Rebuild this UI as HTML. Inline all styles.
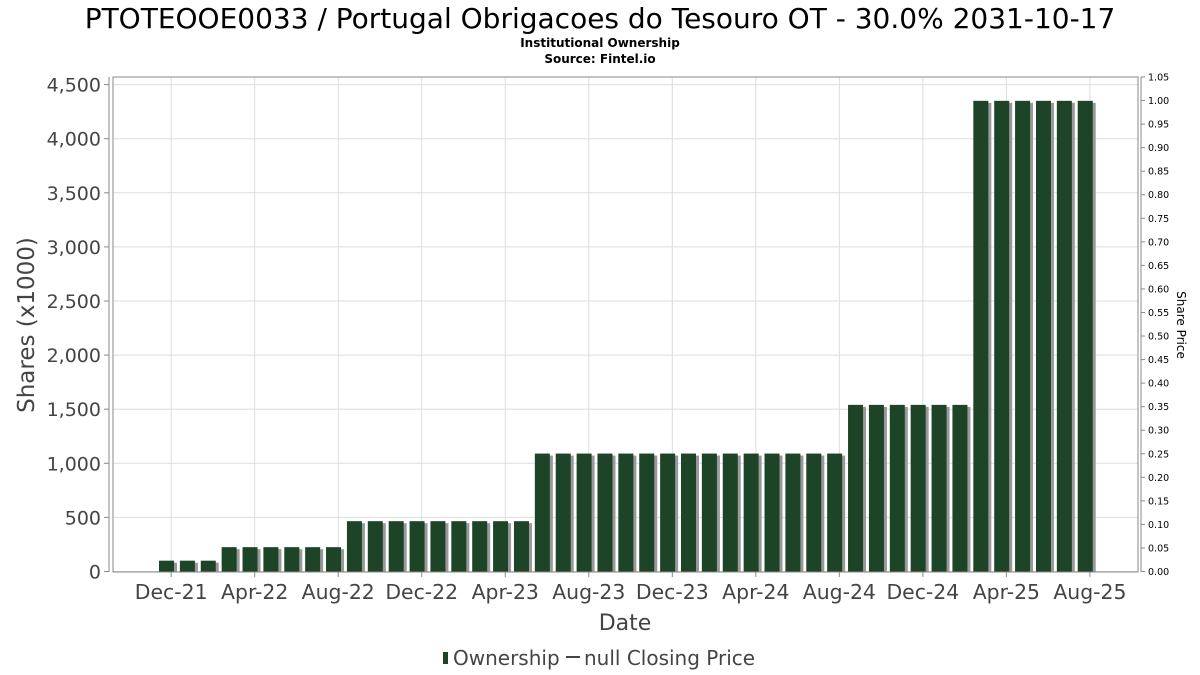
<!DOCTYPE html>
<html><head><meta charset="utf-8"><style>
body{margin:0;background:#fff;}
svg{display:block;font-family:"DejaVu Sans","Liberation Sans",sans-serif;}
</style></head><body>
<svg id="chart" width="1200" height="675" viewBox="0 0 1200 675">
<text x="600" y="28" text-anchor="middle" font-size="28" fill="#000">PTOTEOOE0033 / Portugal Obrigacoes do Tesouro OT - 30.0% 2031-10-17</text>
<text x="600" y="47" text-anchor="middle" font-size="12" font-weight="bold" fill="#000">Institutional Ownership</text>
<text x="600" y="63" text-anchor="middle" font-size="12" font-weight="bold" fill="#000">Source: Fintel.io</text>
<g id="grid"></g>
<g id="bars"></g>
<rect x="113" y="77" width="1025" height="495" fill="none" stroke="#888"/>
<g id="yaxis"></g>
<g id="raxis"></g>
<g id="xaxis"></g>
<text x="34" y="325" text-anchor="middle" font-size="23" fill="#444" transform="rotate(-90 34 325)">Shares (x1000)</text>
<text x="1177" y="325" text-anchor="middle" font-size="12" fill="#000" transform="rotate(90 1177 325)">Share Price</text>
<text x="625" y="630" text-anchor="middle" font-size="22" fill="#444">Date</text>
<g>
<rect x="443" y="652" width="5" height="12" fill="#1d4427"/>
<text x="453" y="665" font-size="20" fill="#444">Ownership</text>
<line x1="566" y1="657" x2="580" y2="657" stroke="#444" stroke-width="2"/>
<text x="584" y="665" font-size="20" fill="#444">null Closing Price</text>
</g>
</svg>
<script>
const values=[100,100,100,225,225,225,225,225,225,465,465,465,465,465,465,465,465,465,1090,1090,1090,1090,1090,1090,1090,1090,1090,1090,1090,1090,1090,1090,1090,1540,1540,1540,1540,1540,1540,4350,4350,4350,4350,4350,4350];
const yTicks=[0,500,1000,1500,2000,2500,3000,3500,4000,4500];
const xLabels=["Dec-21","Apr-22","Aug-22","Dec-22","Apr-23","Aug-23","Dec-23","Apr-24","Aug-24","Dec-24","Apr-25","Aug-25"];
const rTicks=[0,0.05,0.1,0.15,0.2,0.25,0.3,0.35,0.4,0.45,0.5,0.55,0.6,0.65,0.7,0.75,0.8,0.85,0.9,0.95,1.0,1.05];
const NS="http://www.w3.org/2000/svg";
const y0=571.5,ppu=54.1/500;
const yS=v=>y0-v*ppu;
const xS=i=>167+i*20.88;
const rS=v=>571.5-v/1.05*494.5;
function mk(t,a,p){const e=document.createElementNS(NS,t);for(const k in a)e.setAttribute(k,a[k]);p.appendChild(e);return e;}
const grid=document.getElementById('grid'),bars=document.getElementById('bars');
yTicks.forEach(v=>{const l=mk('line',{x1:113,x2:1138,y1:yS(v),y2:yS(v),stroke:'#ddd'},grid);

});
xLabels.forEach((s,k)=>{const x=xS(0.2+4*k);const l=mk('line',{x1:x,x2:x,y1:77,y2:572,stroke:'#ddd'},grid);


const t=mk('text',{x:x,y:599,'text-anchor':'middle','font-size':20.4,fill:'#444'},document.getElementById('xaxis'));t.textContent=s;


const tk=mk('line',{x1:x,x2:x,y1:572,y2:577,stroke:'#888'},document.getElementById('xaxis'));

});
values.forEach((v,i)=>{const x=xS(i)-8,y=yS(v),h=y0-y;
const s=mk('rect',{x:x+3,y:y+2,width:15,height:h-2,fill:'#999'},bars);


const b=mk('rect',{x:x,y:y,width:15,height:h,fill:'#1d4427'},bars);

});
const ya=document.getElementById('yaxis');
yTicks.forEach(v=>{const t=mk('text',{x:101,y:yS(v)+7,'text-anchor':'end','font-size':19,fill:'#444'},ya);t.textContent=v.toLocaleString('en-US');


const tk=mk('line',{x1:104,x2:109,y1:yS(v),y2:yS(v),stroke:'#888'},ya);

});
mk('line',{x1:109,x2:109,y1:77,y2:572,stroke:'#888'},ya);
const ra=document.getElementById('raxis');
rTicks.forEach(v=>{const t=mk('text',{x:1148,y:rS(v)+3.5,'font-size':9.5,fill:'#000'},ra);t.textContent=v.toFixed(2);


const tk=mk('line',{x1:1141,x2:1145,y1:rS(v),y2:rS(v),stroke:'#888'},ra);

});
mk('line',{x1:1141,x2:1141,y1:77,y2:572,stroke:'#888'},ra);
</script>
</body></html>
